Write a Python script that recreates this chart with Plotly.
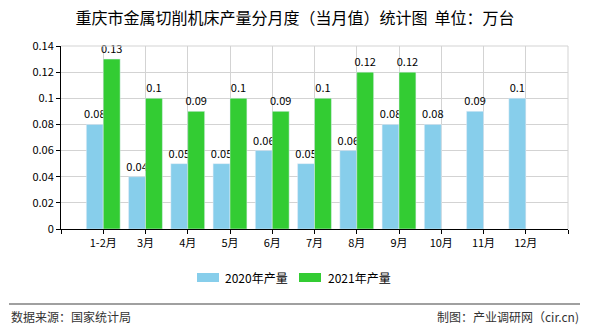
import plotly.graph_objects as go

categories = ["1-2月", "3月", "4月", "5月", "6月", "7月", "8月", "9月", "10月", "11月", "12月"]
values_2020 = [0.08, 0.04, 0.05, 0.05, 0.06, 0.05, 0.06, 0.08, 0.08, 0.09, 0.1]
values_2021 = [0.13, 0.1, 0.09, 0.1, 0.09, 0.1, 0.12, 0.12, None, None, None]
series_names = ["2020年产量", "2021年产量"]
series_colors = ["#87CEEB", "#33CC33"]
y_ticks = [0, 0.02, 0.04, 0.06, 0.08, 0.1, 0.12, 0.14]
y_ticklabels = ["0", "0.02", "0.04", "0.06", "0.08", "0.1", "0.12", "0.14"]

FONT = "Noto Sans CJK SC, Noto Sans, sans-serif"
xpos = list(range(1, len(categories) + 1))

def labels(vals):
    return [("" if v is None else f"{v:g}") for v in vals]

fig = go.Figure()
for name, vals, col in zip(series_names, [values_2020, values_2021], series_colors):
    fig.add_trace(go.Bar(x=xpos, y=vals, name=name, marker_color=col,
                         text=labels(vals), textposition="outside", cliponaxis=False,
                         constraintext="none", showlegend=False,
                         textfont=dict(size=11, color="#000000")))

tickvals = [0] + xpos + [len(categories) + 1]
ticktext = [""] + categories + [""]

fig.update_layout(
    width=590, height=330,
    margin=dict(l=61, r=22, t=46, b=101),
    paper_bgcolor="white", plot_bgcolor="white",
    font=dict(family=FONT, size=11, color="#000000"),
    barmode="group", bargap=0.2, bargroupgap=0,
    title=dict(text="重庆市金属切削机床产量分月度（当月值）统计图  单位：万台",
               x=0.5, xanchor="center", y=0.945, yanchor="middle",
               font=dict(size=16, color="#000000", family=FONT)),
    xaxis=dict(range=[0, len(categories) + 1], tickmode="array", tickvals=tickvals, ticktext=ticktext,
               showgrid=True, gridcolor="#d3d3d3", gridwidth=1,
               showline=True, linecolor="#000000", linewidth=1,
               ticks="outside", ticklen=4, tickcolor="#000000", zeroline=False,
               tickfont=dict(size=11)),
    yaxis=dict(range=[0, 0.14], tickmode="array", tickvals=y_ticks, ticktext=y_ticklabels,
               showgrid=True, gridcolor="#d3d3d3", gridwidth=1,
               showline=True, linecolor="#000000", linewidth=1,
               ticks="outside", ticklen=4, tickcolor="#000000", zeroline=False,
               tickfont=dict(size=11)),
    showlegend=False,
)

# top and right border in grid colour
fig.add_shape(type="line", xref="paper", yref="paper", x0=0, x1=1, y0=1, y1=1,
              line=dict(color="#d3d3d3", width=1))
fig.add_shape(type="line", xref="paper", yref="paper", x0=1, x1=1, y0=0, y1=1,
              line=dict(color="#d3d3d3", width=1))

# custom legend (pixel -> paper conversion)
PL, PW, PB, PH = 61, 507, 229, 183
def px(x): return (x - PL) / PW
def py(y): return (PB - y) / PH

legend_items = [(197, 219, 223), (299, 321, 326)]
for (x0, x1, tx), name, col in zip(legend_items, series_names, series_colors):
    fig.add_shape(type="rect", xref="paper", yref="paper", x0=px(x0), x1=px(x1),
                  y0=py(273), y1=py(282), fillcolor=col, line=dict(width=0))
    fig.add_annotation(text=name, xref="paper", yref="paper", x=px(tx), y=py(277.5),
                       xanchor="left", yanchor="middle", showarrow=False,
                       font=dict(size=12, color="#000000"))

# footer separator line
fig.add_shape(type="line", xref="paper", yref="paper", x0=px(9), x1=px(580), y0=py(304), y1=py(304),
              line=dict(color="#808080", width=1.5))
fig.add_annotation(text="数据来源：国家统计局", xref="paper", yref="paper", x=px(9), y=py(316),
                   xanchor="left", yanchor="middle", showarrow=False,
                   font=dict(size=12, color="#333333"))
fig.add_annotation(text="制图：产业调研网（cir.cn)", xref="paper", yref="paper", x=px(581), y=py(316),
                   xanchor="right", yanchor="middle", showarrow=False,
                   font=dict(size=12, color="#333333"))

fig.write_html("out.html")
